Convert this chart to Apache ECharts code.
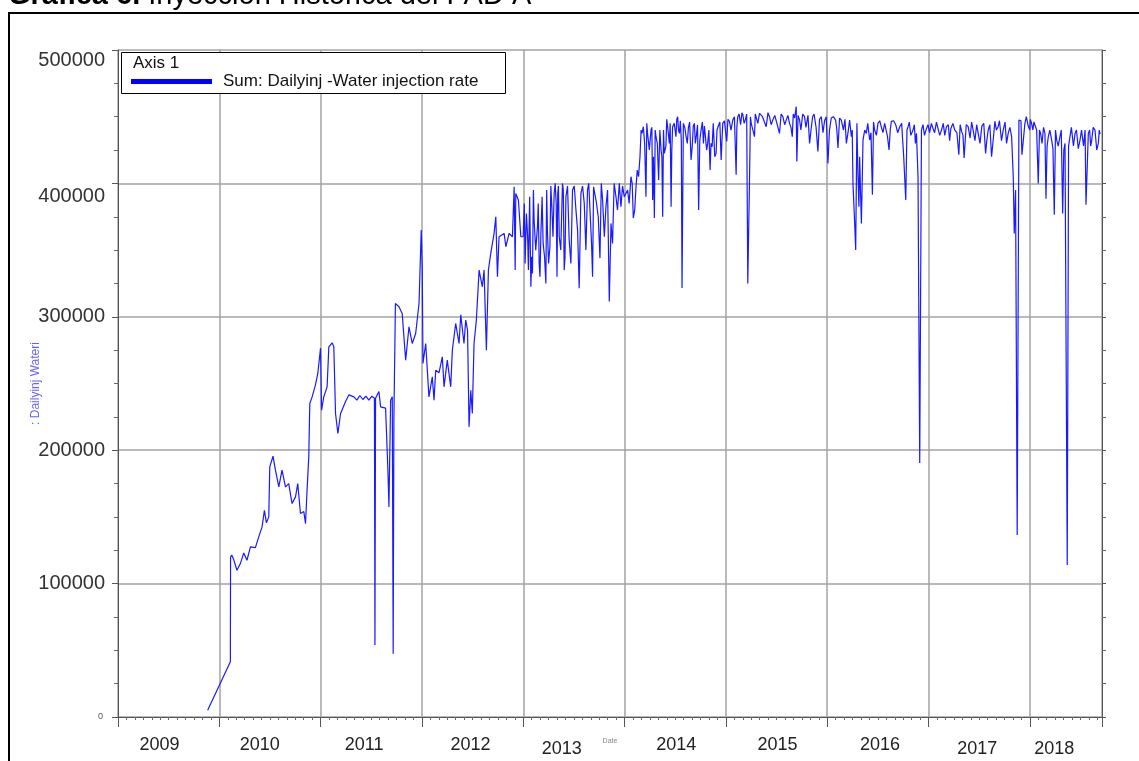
<!DOCTYPE html>
<html>
<head>
<meta charset="utf-8">
<script src="https://cdn.jsdelivr.net/npm/echarts@6/dist/echarts.min.js"></script>
<style>
html,body{margin:0;padding:0;background:#fff;}
#chart{width:1139px;height:761px;}
</style>
</head>
<body>
<div id="chart"></div>
<script>
// Dates as decimal years, values in daily water injection rate (main trace, incl. spikes)
const injDates = [
2009.885, 2010.109, 2010.111, 2010.122, 2010.142, 2010.174, 2010.208, 2010.241, 2010.273, 2010.307,
2010.356, 2010.389, 2010.422, 2010.445, 2010.465, 2010.488, 2010.498, 2010.530, 2010.554, 2010.587,
2010.619, 2010.653, 2010.685, 2010.718, 2010.752, 2010.774, 2010.801, 2010.834, 2010.851, 2010.866,
2010.883, 2010.893, 2010.916, 2010.949, 2010.972, 2010.999, 2011.009, 2011.031, 2011.064, 2011.081,
2011.114, 2011.130, 2011.147, 2011.170, 2011.197, 2011.246, 2011.279, 2011.328, 2011.358, 2011.387,
2011.417, 2011.447, 2011.476, 2011.506, 2011.531, 2011.536, 2011.542, 2011.575, 2011.592, 2011.641,
2011.664, 2011.674, 2011.691, 2011.707, 2011.716, 2011.723, 2011.738, 2011.773, 2011.805, 2011.839,
2011.872, 2011.904, 2011.938, 2011.971, 2011.993, 2012.003, 2012.010, 2012.037, 2012.069, 2012.102,
2012.119, 2012.136, 2012.168, 2012.201, 2012.218, 2012.250, 2012.284, 2012.300, 2012.333, 2012.366,
2012.383, 2012.415, 2012.432, 2012.450, 2012.465, 2012.482, 2012.497, 2012.514, 2012.537, 2012.564,
2012.596, 2012.613, 2012.636, 2012.656, 2012.679, 2012.712, 2012.729, 2012.745, 2012.761, 2012.811,
2012.828, 2012.860, 2012.893, 2012.910, 2012.920, 2012.926, 2012.952, 2012.976, 2012.999, 2013.018,
2013.031, 2013.051, 2013.075, 2013.091, 2013.107, 2013.140, 2013.157, 2013.174, 2013.196, 2013.223,
2013.239, 2013.263, 2013.282, 2013.305, 2013.325, 2013.340, 2013.355, 2013.387, 2013.404, 2013.421,
2013.453, 2013.486, 2013.520, 2013.552, 2013.569, 2013.602, 2013.634, 2013.658, 2013.674, 2013.694,
2013.723, 2013.757, 2013.783, 2013.816, 2013.849, 2013.866, 2013.881, 2013.915, 2013.948, 2013.964,
2013.997, 2014.030, 2014.063, 2014.086, 2014.113, 2014.138, 2014.152, 2014.172, 2014.185, 2014.211,
2014.227, 2014.261, 2014.277, 2014.294, 2014.310, 2014.336, 2014.360, 2014.376, 2014.392, 2014.425,
2014.459, 2014.474, 2014.524, 2014.541, 2014.567, 2014.580, 2014.607, 2014.630, 2014.656, 2014.689,
2014.709, 2014.731, 2014.755, 2014.788, 2014.820, 2014.844, 2014.864, 2014.903, 2014.923, 2014.953,
2014.969, 2015.008, 2015.035, 2015.068, 2015.101, 2015.117, 2015.167, 2015.193, 2015.216, 2015.233,
2015.250, 2015.282, 2015.299, 2015.332, 2015.361, 2015.398, 2015.430, 2015.463, 2015.500, 2015.529,
2015.562, 2015.598, 2015.628, 2015.655, 2015.678, 2015.694, 2015.700, 2015.727, 2015.776, 2015.826,
2015.856, 2015.908, 2015.942, 2015.974, 2016.007, 2016.040, 2016.083, 2016.106, 2016.139, 2016.189,
2016.221, 2016.238, 2016.254, 2016.271, 2016.281, 2016.293, 2016.303, 2016.313, 2016.337, 2016.353,
2016.386, 2016.419, 2016.446, 2016.468, 2016.501, 2016.535, 2016.567, 2016.610, 2016.633, 2016.676,
2016.716, 2016.755, 2016.775, 2016.798, 2016.847, 2016.881, 2016.896, 2016.913, 2016.930, 2016.979,
2017.045, 2017.094, 2017.128, 2017.177, 2017.220, 2017.259, 2017.299, 2017.326, 2017.351, 2017.391,
2017.440, 2017.490, 2017.526, 2017.563, 2017.589, 2017.622, 2017.655, 2017.687, 2017.737, 2017.786,
2017.820, 2017.836, 2017.846, 2017.859, 2017.875, 2017.892, 2017.912, 2017.922, 2017.951, 2017.984,
2018.017, 2018.040, 2018.067, 2018.083, 2018.106, 2018.149, 2018.159, 2018.182, 2018.215, 2018.241,
2018.265, 2018.297, 2018.324, 2018.347, 2018.369, 2018.396, 2018.446, 2018.495, 2018.554, 2018.577,
2018.611, 2018.643, 2018.676, 2018.693
];
const injRates = [
5000, 41500, 120000, 121500, 118000, 110000, 115000, 123000, 117500, 127500,
127000, 135000, 142500, 155000, 145500, 150000, 187500, 195500, 185000, 172500,
185000, 172500, 175000, 160000, 165000, 175000, 152500, 154000, 145000, 170000,
195000, 235000, 240000, 249000, 257500, 276500, 230000, 240000, 247500, 277500,
280500, 277500, 227500, 212500, 227500, 236500, 241500, 240000, 237500, 241000,
238000, 240500, 237500, 240500, 239000, 54000, 239000, 244000, 232500, 231500,
185000, 157500, 237500, 240000, 47500, 222500, 310000, 307500, 302500, 267500,
292500, 280000, 287500, 310000, 365000, 337500, 265000, 280000, 240000, 255000,
237500, 260000, 258000, 270000, 247500, 267500, 247500, 275000, 295000, 280000,
301500, 280000, 297500, 290000, 217500, 245000, 227500, 280000, 297500, 335000,
322500, 335000, 275000, 335000, 347500, 362500, 375000, 330000, 360000, 362500,
352500, 362500, 360000, 397500, 335000, 392500, 387500, 360000, 360000, 340000,
377500, 335000, 322500, 332500, 372500, 367500, 340000, 362500, 355000, 325000,
362500, 352500, 382500, 392500, 385000, 392000, 360000, 400000, 335000, 390000,
357500, 395000, 380000, 321500, 392500, 385000, 395000, 400000, 355000, 397500,
385000, 344000, 387500, 382500, 311500, 370000, 355000, 390000, 400000, 382500,
390000, 395000, 405000, 374000, 397500, 405000, 420000, 437500, 442500, 390000,
437500, 440000, 387500, 374000, 435000, 402500, 425000, 375000, 422500, 442500,
382500, 442500, 450000, 437500, 321500, 445000, 435000, 442000, 417500, 445000,
436000, 380000, 440000, 443000, 430000, 410000, 427500, 422500, 442500, 417500,
445000, 431500, 446500, 447500, 406500, 450000, 451500, 448000, 325000, 402500,
445000, 435000, 451500, 452500, 450000, 442500, 450000, 447500, 446000, 437500,
450000, 448000, 445000, 435000, 449000, 457500, 416500, 447500, 450000, 430000,
450000, 424000, 450000, 447000, 415000, 449000, 447500, 426500, 447500, 430000,
447500, 435000, 400000, 370000, 350000, 445000, 407500, 382500, 370000, 432500,
437500, 432500, 391500, 440000, 445000, 442000, 445000, 425000, 446500, 444000,
442500, 420000, 387500, 442500, 440000, 437500, 405000, 190500, 440000, 441000,
441000, 445000, 440000, 442500, 441000, 440000, 421500, 439000, 419000, 442500,
440000, 437500, 443000, 422500, 440000, 420000, 446500, 442500, 440000, 437500,
435000, 405000, 362500, 395000, 136500, 447500, 447000, 421500, 445000, 443000,
445000, 446000, 440000, 400000, 437500, 437500, 388500, 435000, 432500, 376500,
432500, 435000, 377500, 430000, 114000, 435000, 437500, 432500, 384000, 437500,
432500, 440000, 430000, 437000
];
// extra readings of the dense day-to-day band (2013-2018)
const bandDates = [
2013.010, 2013.043, 2013.063, 2013.083, 2013.100, 2013.123, 2013.148, 2013.165, 2013.186, 2013.210,
2013.231, 2013.250, 2013.272, 2013.293, 2013.315, 2013.333, 2013.347, 2013.370, 2013.395, 2013.412,
2013.437, 2013.470, 2013.503, 2013.536, 2013.585, 2013.618, 2013.646, 2013.684, 2013.708, 2013.740,
2013.770, 2013.800, 2013.832, 2013.897, 2013.930, 2013.980,
2014.045, 2014.075, 2014.100, 2014.125, 2014.163, 2014.198, 2014.219, 2014.244, 2014.269, 2014.285,
2014.302, 2014.323, 2014.348, 2014.368, 2014.384, 2014.408, 2014.416, 2014.442, 2014.450, 2014.466,
2014.490, 2014.507, 2014.515, 2014.532, 2014.550, 2014.560, 2014.594, 2014.619, 2014.642, 2014.668,
2014.678, 2014.698, 2014.720, 2014.742, 2014.768, 2014.778, 2014.798, 2014.810, 2014.832, 2014.853,
2014.875, 2014.890, 2014.912, 2014.940, 2014.961, 2014.985, 2014.998,
2015.020, 2015.050, 2015.084, 2015.108, 2015.130, 2015.145, 2015.158, 2015.180, 2015.205, 2015.242,
2015.266, 2015.290, 2015.315, 2015.345, 2015.380, 2015.415, 2015.447, 2015.482, 2015.515, 2015.545,
2015.580, 2015.612, 2015.642, 2015.665, 2015.712, 2015.740, 2015.758, 2015.790, 2015.810, 2015.840,
2015.870, 2015.890, 2015.924, 2015.958, 2015.990,
2016.022, 2016.060, 2016.095, 2016.122, 2016.160, 2016.175, 2016.205, 2016.247, 2016.320, 2016.345,
2016.370, 2016.400, 2016.432, 2016.457, 2016.485, 2016.518, 2016.550, 2016.585, 2016.595, 2016.622,
2016.655, 2016.695, 2016.735, 2016.745, 2016.787, 2016.810, 2016.825, 2016.860, 2016.870, 2016.945,
2016.960, 2016.995,
2017.010, 2017.028, 2017.060, 2017.078, 2017.110, 2017.145, 2017.160, 2017.195, 2017.208, 2017.240,
2017.280, 2017.312, 2017.340, 2017.372, 2017.410, 2017.425, 2017.458, 2017.475, 2017.508, 2017.545,
2017.575, 2017.605, 2017.640, 2017.670, 2017.700, 2017.720, 2017.755, 2017.770, 2017.803, 2017.965,
2017.999,
2018.005, 2018.030, 2018.053, 2018.095, 2018.120, 2018.135, 2018.170, 2018.197, 2018.228, 2018.253,
2018.280, 2018.310, 2018.335, 2018.382, 2018.410, 2018.430, 2018.460, 2018.478, 2018.510, 2018.530,
2018.545, 2018.590, 2018.600, 2018.625, 2018.660, 2018.685
];
const bandRates = [
385000, 360000, 390000, 345000, 395000, 350000, 385000, 330000, 390000, 345000,
395000, 340000, 398000, 360000, 400000, 330000, 398000, 350000, 395000, 345000,
398000, 340000, 398000, 365000, 398000, 350000, 400000, 330000, 398000, 375000,
400000, 360000, 395000, 400000, 380000, 398000,
385000, 400000, 380000, 410000, 440000, 430000, 445000, 425000, 442000, 420000,
440000, 430000, 440000, 420000, 440000, 428000, 448000, 430000, 445000, 425000,
445000, 435000, 448000, 440000, 447000, 432000, 442000, 430000, 446000, 428000,
443000, 430000, 444000, 432000, 446000, 430000, 444000, 425000, 440000, 430000,
445000, 420000, 440000, 446000, 432000, 447000, 438000,
448000, 440000, 450000, 442000, 452000, 444000, 453000, 445000, 452000, 450000,
444000, 452000, 445000, 453000, 446000, 453000, 444000, 451000, 445000, 452000,
444000, 451000, 442000, 452000, 451000, 440000, 452000, 442000, 451000, 440000,
452000, 442000, 448000, 438000, 450000,
440000, 450000, 440000, 449000, 440000, 448000, 438000, 440000, 420000, 400000,
440000, 445000, 438000, 446000, 436000, 447000, 438000, 446000, 435000, 440000,
447000, 438000, 445000, 432000, 440000, 446000, 436000, 444000, 430000, 444000,
436000, 444000,
438000, 445000, 438000, 446000, 436000, 445000, 436000, 444000, 432000, 445000,
438000, 444000, 436000, 444000, 434000, 446000, 432000, 444000, 430000, 445000,
432000, 444000, 434000, 440000, 447000, 432000, 446000, 430000, 442000, 450000,
440000,
448000, 440000, 447000, 440000, 430000, 442000, 428000, 440000, 426000, 440000,
428000, 440000, 425000, 428000, 442000, 428000, 440000, 426000, 440000, 428000,
440000, 440000, 428000, 442000, 425000, 440000
];
// x-axis year labels (placed within each year band) and their axis values
const yearLabels = ['2009','2010','2011','2012','2013','2014','2015','2016','2017','2018'];
const yearLabelAt = [2009.41, 2010.40, 2011.43, 2012.48, 2013.38, 2014.51, 2015.51, 2016.52, 2017.48, 2018.24];
const yTicks = [0, 100000, 200000, 300000, 400000, 500000];
const seriesName = 'Sum: Dailyinj -Water injection rate';

const seriesData = injDates.map((d, i) => [d, injRates[i]])
  .concat(bandDates.map((d, i) => [d, bandRates[i]]))
  .sort((a, b) => a[0] - b[0]);
const FONT = 'Liberation Sans, Arial, sans-serif';

const chart = echarts.init(document.getElementById('chart'), null, {renderer: 'canvas'});
chart.setOption({
  animation: false,
  backgroundColor: '#ffffff',
  grid: {left: 118, right: 37, top: 50, bottom: 44, outerBoundsMode: 'none', containLabel: false},
  legend: {
    data: [seriesName],
    left: 131, top: 73,
    padding: 0,
    itemWidth: 81, itemHeight: 5,
    icon: 'rect',
    z: 200,
    textStyle: {fontFamily: FONT, fontSize: 17, color: '#111', padding: [0, 0, 0, 6]}
  },
  xAxis: {
    type: 'value', min: 2009, max: 2018.712, interval: 1,
    name: 'Date', nameLocation: 'middle', nameGap: 21, nameMoveOverlap: false,
    nameTextStyle: {fontFamily: FONT, fontSize: 7, color: '#888'},
    axisLine: {show: true, onZero: false, lineStyle: {color: '#555', width: 1}},
    axisTick: {show: true, length: 10, lineStyle: {color: '#555'}},
    minorTick: {show: true, splitNumber: 12, length: 3, lineStyle: {color: '#666'}},
    splitLine: {show: true, lineStyle: {color: '#a3a3a3', width: 1.5}},
    axisLabel: {
      customValues: yearLabelAt,
      margin: 19,
      fontFamily: FONT, fontSize: 18, color: '#222',
      formatter: function (v) {
        let k = 0, best = 1e9;
        yearLabelAt.forEach((p, i) => { const d = Math.abs(p - v); if (d < best) { best = d; k = i; } });
        const t = yearLabels[k];
        return (t === '2013' || t === '2018' || t === '2017') ? '{lo|' + t + '}' : t;
      },
      rich: {lo: {fontFamily: FONT, fontSize: 18, color: '#222', padding: [4, 0, 0, 0]}}
    }
  },
  yAxis: [{
    type: 'value', min: 0, max: 500000, interval: 100000,
    name: ': Dailyinj Wateri', nameLocation: 'middle', nameGap: 76, nameRotate: 90, nameMoveOverlap: false,
    nameTextStyle: {fontFamily: FONT, fontSize: 12, color: '#6464ff'},
    axisLine: {show: true, lineStyle: {color: '#555', width: 1}},
    axisTick: {show: true, length: 6, lineStyle: {color: '#555'}},
    minorTick: {show: true, splitNumber: 4, length: 4, lineStyle: {color: '#666'}},
    splitLine: {show: true, lineStyle: {color: '#a3a3a3', width: 1.5}},
    axisLabel: {
      margin: 13, fontFamily: FONT, fontSize: 20, color: '#333',
      formatter: function (v) {
        if (v === yTicks[0]) return '{z|0}';
        if (v === yTicks[5]) return '{t|' + v + '}';
        if (v === yTicks[4]) return '{f|' + v + '}';
        return String(v);
      },
      rich: {
        z: {fontFamily: FONT, fontSize: 9, color: '#555', padding: [0, 2, 0, 0]},
        t: {fontFamily: FONT, fontSize: 20, color: '#333', padding: [20, 0, 0, 0]},
        f: {fontFamily: FONT, fontSize: 20, color: '#333', padding: [26, 0, 0, 0]}
      }
    }
  }, {
    type: 'value', min: 0, max: 500000, interval: 100000, position: 'right',
    axisLine: {show: true, lineStyle: {color: '#555', width: 1}},
    axisTick: {show: true, length: 4, lineStyle: {color: '#555'}},
    minorTick: {show: true, splitNumber: 4, length: 4, lineStyle: {color: '#666'}},
    splitLine: {show: false},
    axisLabel: {show: false}
  }],
  series: [{
    name: seriesName,
    type: 'line',
    yAxisIndex: 0,
    data: seriesData,
    showSymbol: false,
    symbol: 'none',
    itemStyle: {color: '#0000ff'},
    lineStyle: {color: '#1a1aff', width: 1.2},
    z: 3
  }],
  graphic: [
    {
      type: 'rect', z: 150,
      shape: {x: 9, y: 13, width: 1140, height: 760},
      style: {fill: 'none', stroke: '#000', lineWidth: 2}
    },
    {
      type: 'rect', z: 150,
      shape: {x: 121.5, y: 52.5, width: 384, height: 41},
      style: {fill: '#fff', stroke: '#000', lineWidth: 1}
    },
    {
      type: 'text', z: 160, x: 133, y: 63,
      style: {text: 'Axis 1', fontFamily: FONT, fontSize: 17, fill: '#111', verticalAlign: 'middle'}
    },
    {
      type: 'text', z: 160, x: 8, y: -4,
      style: {
        text: '{b|Gráfica 6.} Inyección Histórica del PAD A',
        fontFamily: FONT, fontSize: 29, fill: '#000', verticalAlign: 'middle',
        rich: {b: {fontFamily: FONT, fontSize: 29, fontWeight: 'bold', fill: '#000'}}
      }
    }
  ]
});
</script>
</body>
</html>
